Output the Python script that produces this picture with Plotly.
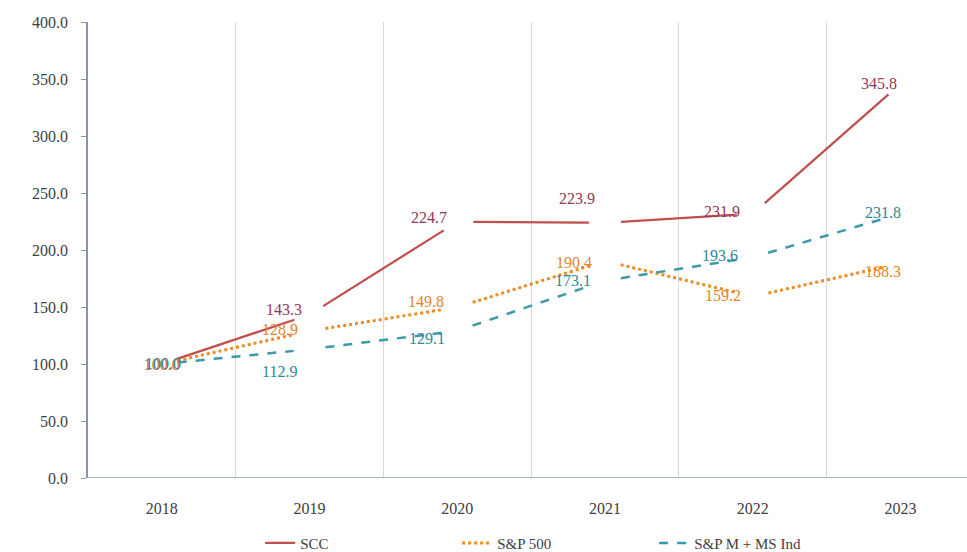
import math
import plotly.graph_objects as go

years = ["2018", "2019", "2020", "2021", "2022", "2023"]
scc = [100.0, 143.3, 224.7, 223.9, 231.9, 345.8]
sp500 = [100.0, 128.9, 149.8, 190.4, 159.2, 188.3]
spmi = [100.0, 112.9, 129.1, 173.1, 193.6, 231.8]
y_ticks = [0, 50, 100, 150, 200, 250, 300, 350, 400]

# layout constants
W, H = 967, 552
ML, MR, MT, MB = 88, 0, 22, 74
XR = [-0.5, 5.45]
YR = [0, 400]
PX_X = (W - ML - MR) / (XR[1] - XR[0])
PX_Y = (H - MT - MB) / (YR[1] - YR[0])
GAP = 16  # pixel gap around each point (line segments do not touch points)

series = [
    dict(name="SCC", vals=scc, color="#C0504D", lbl="#8E3B55",
         dash="solid", width=2.25,
         off=[(0, 0), (-26, 5), (-28, 4), (-28, 24), (-31, 2), (-22, 0)]),
    dict(name="S&P 500", vals=sp500, color="#F08A24", lbl="#E8822A",
         dash="dot", width=3,
         off=[(0, 0), (-30, 2), (-31, 6), (-31, -2), (-30, 1), (-18, -8)]),
    dict(name="S&P M + MS Ind", vals=spmi, color="#3C9AAA", lbl="#2E8696",
         dash="dash", width=2.5,
         off=[(1, 1), (-30, -22), (-30, -8), (-32, 0), (-33, 2), (-18, 1)]),
]


def trimmed_segments(vals):
    xs, ys = [], []
    for i in range(len(vals) - 1):
        v0, v1 = vals[i], vals[i + 1]
        L = math.hypot(PX_X, (v1 - v0) * PX_Y)
        f = GAP / L
        xs += [i + f, i + 1 - f, None]
        ys += [v0 + f * (v1 - v0), v1 - f * (v1 - v0), None]
    return xs, ys


fig = go.Figure()
annotations = []
for s in series:
    xs, ys = trimmed_segments(s["vals"])
    fig.add_trace(go.Scatter(
        x=xs, y=ys, mode="lines", name=s["name"],
        line=dict(color=s["color"], width=s["width"], dash=s["dash"]),
        connectgaps=False, hoverinfo="skip",
    ))
    for i, v in enumerate(s["vals"]):
        dx, dy = s["off"][i]
        annotations.append(dict(
            x=i, y=v, xref="x", yref="y", text=f"{v:.1f}", showarrow=False,
            xshift=dx, yshift=dy, xanchor="center", yanchor="middle",
            font=dict(family="Liberation Serif", size=16, color=s["lbl"]),
        ))

fig.update_layout(
    width=W, height=H,
    margin=dict(l=ML, r=MR, t=MT, b=MB, pad=0, autoexpand=False),
    paper_bgcolor="white", plot_bgcolor="white",
    font=dict(family="Liberation Serif", size=16, color="#404040"),
    annotations=annotations,
    showlegend=True,
    legend=dict(
        orientation="h", x=0.532, xanchor="center",
        yref="container", y=0.016, yanchor="middle",
        font=dict(family="Liberation Serif", size=15, color="#404040"),
        itemwidth=30, entrywidth=152, entrywidthmode="pixels",
        traceorder="normal",
    ),
)
fig.update_xaxes(
    range=XR, tickmode="array", tickvals=list(range(len(years))), ticktext=years,
    showgrid=False, zeroline=False, showline=False, ticks="",
    ticklabelstandoff=19,
    minor=dict(tickvals=[i + 0.5 for i in range(len(years) - 1)],
               showgrid=True, gridcolor="#D9D9D9", gridwidth=1.3, ticks=""),
    fixedrange=True,
)
fig.update_yaxes(
    range=YR, tickmode="array", tickvals=y_ticks,
    ticktext=[f"{t:.1f}" for t in y_ticks],
    showgrid=False, zeroline=False, showline=True, linecolor="#8497B0",
    linewidth=1.5, ticks="outside", ticklen=5, tickcolor="#8497B0",
    ticklabelstandoff=10, fixedrange=True,
)
# x axis baseline at y=0
fig.add_shape(type="line", xref="paper", yref="y", x0=0, x1=1, y0=0, y1=0,
              line=dict(color="#8497B0", width=1.5))

fig.write_html("out.html")
